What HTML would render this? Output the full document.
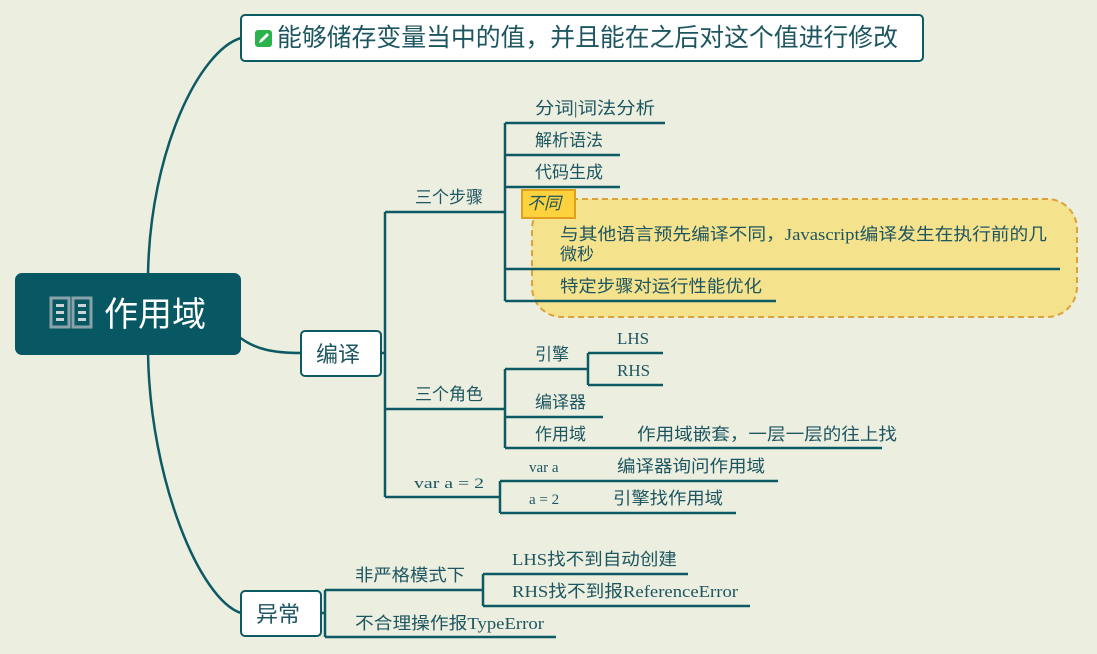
<!DOCTYPE html>
<html><head><meta charset="utf-8"><style>
html,body{margin:0;padding:0;background:#ecefdf;}
svg{display:block}
text{font-family:"Liberation Serif","Noto Sans CJK SC",serif;fill:#1d5560;font-size:17px;}
</style></head><body>
<svg width="1097" height="654" viewBox="0 0 1097 654">
<rect width="1097" height="654" fill="#ecefdf"/>
<g fill="none" stroke="#0e5a64" stroke-width="2.5">
<path d="M148,275 C150,150 200,50 241,38"/>
<path d="M148,353 C150,480 200,600 241,613"/>
<path d="M238,336 C255,350 275,353 301,353"/>
</g>
<rect x="532" y="199" width="545" height="118" rx="30" fill="#f5e28c" stroke="#dca23a" stroke-width="2" stroke-dasharray="6,4"/>
<g fill="none" stroke="#0e5a64" stroke-width="2.5">
<path d="M381,353 H385 M385,212 V497"/>
<path d="M385,212 H505 M505,123 V301"/>
<path d="M505,123 H665 M505,155 H620 M505,187 H620 M505,269 H1060 M505,301 H776"/>
<path d="M385,409 H505 M505,369 V448"/>
<path d="M505,369 H588 M588,353 V385 M588,353 H663 M588,385 H663"/>
<path d="M505,417 H603 M505,448 H882"/>
<path d="M385,497 H500 M500,481 V513 M500,481 H778 M500,513 H736"/>
<path d="M321,613 H325 M325,590 V637 M325,590 H483 M483,574 V606 M483,574 H688 M483,606 H750 M325,637 H556"/>
</g>
<rect x="15" y="273" width="226" height="82" rx="7" fill="#085864"/>
<g fill="none" stroke="#8aa3aa" stroke-width="3">
<path d="M51,298 H69 V327 H51 Z M73,298 H91 V327 H73 Z"/>
</g>
<g fill="#c8d4d6"><rect x="56" y="304" width="8" height="3"/><rect x="56" y="311" width="8" height="3"/><rect x="56" y="318" width="8" height="3"/><rect x="78" y="304" width="8" height="3"/><rect x="78" y="311" width="8" height="3"/><rect x="78" y="318" width="8" height="3"/></g>
<text x="104" y="326" style="font-size:34px;fill:#fff">作用域</text>
<rect x="241" y="15" width="682" height="46" rx="4" fill="#fff" stroke="#0e5a64" stroke-width="2"/>
<rect x="255" y="30" width="17" height="17" rx="3" fill="#2bb24c"/>
<path d="M259,43 L260,40 L267,33 L269,35 L262,42 Z" fill="#fff"/>
<text x="277" y="46" style="font-size:25px" textLength="621" lengthAdjust="spacingAndGlyphs">能够储存变量当中的值，并且能在之后对这个值进行修改</text>
<rect x="301" y="331" width="80" height="45" rx="4" fill="#fff" stroke="#0e5a64" stroke-width="2"/>
<text x="316" y="362" style="font-size:22px">编译</text>
<rect x="241" y="591" width="80" height="45" rx="4" fill="#fff" stroke="#0e5a64" stroke-width="2"/>
<text x="256" y="622" style="font-size:22px">异常</text>
<text x="535" y="114" textLength="120" lengthAdjust="spacingAndGlyphs">分词|词法分析</text>
<text x="535" y="146">解析语法</text>
<text x="535" y="178">代码生成</text>
<text x="415" y="203">三个步骤</text>
<rect x="522" y="190" width="53" height="28" fill="#fdd23c" stroke="#e0a020" stroke-width="2"/>
<text x="527" y="209" style="font-style:italic">不同</text>
<text x="560" y="240" textLength="487" lengthAdjust="spacingAndGlyphs">与其他语言预先编译不同，Javascript编译发生在执行前的几</text>
<text x="560" y="260">微秒</text>
<text x="560" y="292" textLength="202" lengthAdjust="spacingAndGlyphs">特定步骤对运行性能优化</text>
<text x="415" y="400">三个角色</text>
<text x="535" y="360">引擎</text>
<text x="617" y="344">LHS</text>
<text x="617" y="376">RHS</text>
<text x="535" y="408">编译器</text>
<text x="535" y="440">作用域</text>
<text x="637" y="440" textLength="260" lengthAdjust="spacingAndGlyphs">作用域嵌套，一层一层的往上找</text>
<text x="414" y="488" style="font-size:15px" textLength="70" lengthAdjust="spacingAndGlyphs">var a  = 2</text>
<text x="529" y="472" style="font-size:15px">var a</text>
<text x="617" y="472" textLength="148" lengthAdjust="spacingAndGlyphs">编译器询问作用域</text>
<text x="529" y="504" style="font-size:15px">a = 2</text>
<text x="613" y="504" textLength="110" lengthAdjust="spacingAndGlyphs">引擎找作用域</text>
<text x="355" y="581" textLength="110" lengthAdjust="spacingAndGlyphs">非严格模式下</text>
<text x="512" y="565" textLength="165" lengthAdjust="spacingAndGlyphs">LHS找不到自动创建</text>
<text x="512" y="597" textLength="226" lengthAdjust="spacingAndGlyphs">RHS找不到报ReferenceError</text>
<text x="355" y="629" textLength="189" lengthAdjust="spacingAndGlyphs">不合理操作报TypeError</text>
</svg>
</body></html>
